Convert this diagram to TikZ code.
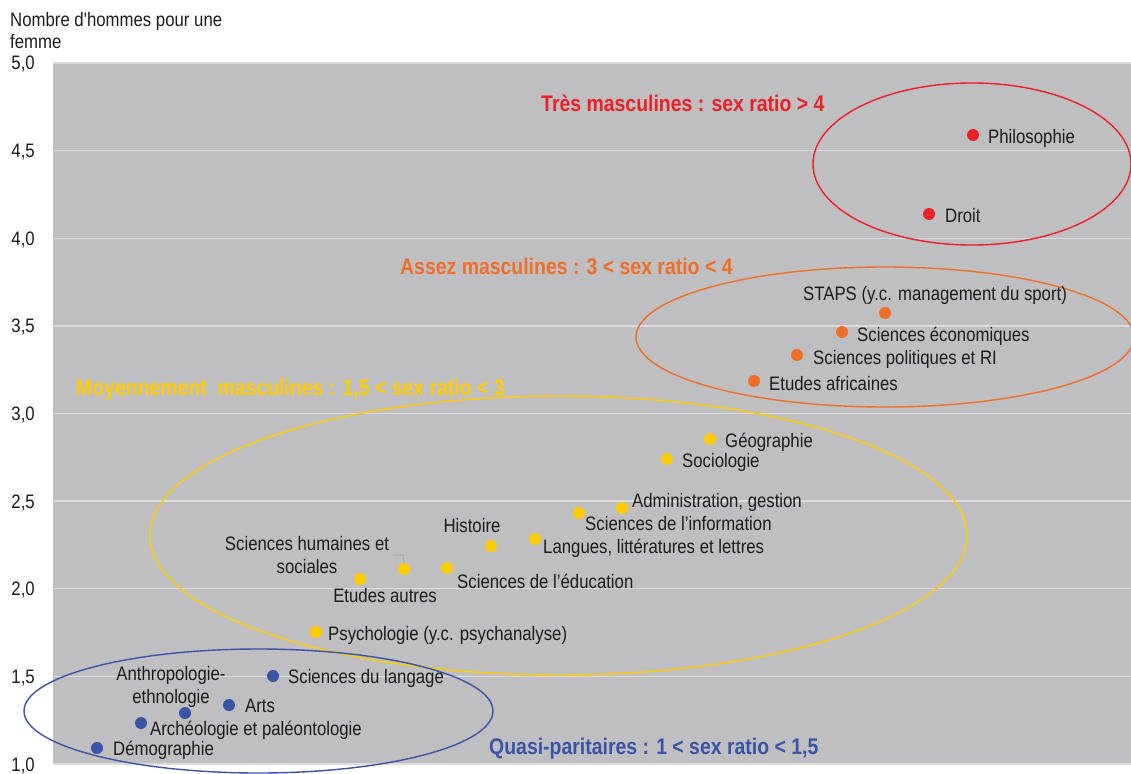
\documentclass[tikz,border=0pt]{standalone}
\usepackage{fontspec}
\setmainfont{Liberation Sans}[FakeStretch=0.86]
\newfontfamily\plainfont{Liberation Sans}[FakeStretch=0.86, Ligatures=TeXOff]
\definecolor{bgc}{RGB}{191,190,192}
\definecolor{gridc}{RGB}{220,220,220}
\definecolor{labc}{RGB}{28,28,28}
\definecolor{cR}{RGB}{233,33,40}
\definecolor{cO}{RGB}{238,110,42}
\definecolor{cY}{RGB}{255,204,0}
\definecolor{cB}{RGB}{58,84,166}
\begin{document}
\begin{tikzpicture}[x=1pt,y=-1pt,
  lab/.style={inner sep=0pt, font=\fontsize{19.5}{22.5}\selectfont, text=labc},
  ttl/.style={inner sep=0pt, font=\fontsize{22.6}{26}\selectfont\bfseries},
  dotbase/.style={circle, minimum size=12pt, inner sep=0pt},
  dotR/.style={dotbase, fill=cR},
  dotO/.style={dotbase, fill=cO},
  dotY/.style={dotbase, fill=cY},
  dotB/.style={dotbase, fill=cB},
  ring/.style={line width=1.4pt},
  leader/.style={draw=gray!70!white, line width=0.8pt}
]
\useasboundingbox (0,0) rectangle (1131,773);
\fill[bgc] (53,63) rectangle (1131,764);
% gridlines and y labels
\foreach \yy/\tx [count=\i] in {63/{5,0},150.6/{4,5},238.25/{4,0},325.9/{3,5},413.5/{3,0},501/{2,5},588.8/{2,0},676.4/{1,5},764/{1,0}}{
  \draw[gridc, line width=1.2pt] (53,\yy) -- (1131,\yy);
  \node[lab, anchor=base east] (yl\i) at (35,\yy+7) {\tx};
}
\node[lab, anchor=base west, align=left] (ytitle) at (10,49) {Nombre d{\plainfont '}hommes pour une\\femme};

% ellipses
\draw[cR, ring] (972,164) ellipse [x radius=159pt, y radius=81pt];
\draw[cO, ring] (885,337) ellipse [x radius=249pt, y radius=70pt];
\draw[cY, ring] (558.5,535.5) ellipse [x radius=408.5pt, y radius=139.5pt];
\draw[cB, ring] (258.5,711) ellipse [x radius=234.5pt, y radius=62pt];

% titles
\node[ttl, text=cR, anchor=base west] (tR) at (541,112) {Très masculines : sex ratio > 4};
\node[ttl, text=cO, anchor=base west] (tO) at (400,274) {Assez masculines : 3 < sex ratio < 4};
\node[ttl, text=cY, anchor=base west] (tY) at (76,395) {Moyennement\ \ masculines : 1,5 < sex ratio < 3};
\node[ttl, text=cB, anchor=base west] (tB) at (489,754) {Quasi-paritaires : 1 < sex ratio < 1,5};

% red
\node[dotR] (philo) at (973,135) {};
\node[lab, anchor=base west] (lphilo) at (988,143) {Philosophie};
\node[dotR] (droit) at (929,214) {};
\node[lab, anchor=base west] (ldroit) at (945,222) {Droit};

% orange
\node[dotO] (staps) at (885,313) {};
\node[lab, anchor=base] (lstaps) at (935,300) {STAPS (y.c. management du sport)};
\node[dotO] (eco) at (842,332) {};
\node[lab, anchor=base west] (leco) at (857,341) {Sciences économiques};
\node[dotO] (pol) at (797,355) {};
\node[lab, anchor=base west] (lpol) at (813,364) {Sciences politiques et RI};
\node[dotO] (afr) at (754,381) {};
\node[lab, anchor=base west] (lafr) at (769,390) {Etudes africaines};

% yellow
\node[dotY] (geo) at (710,439) {};
\node[lab, anchor=base west] (lgeo) at (725,447) {Géographie};
\node[dotY] (socio) at (667,459) {};
\node[lab, anchor=base west] (lsocio) at (682,467) {Sociologie};
\node[dotY] (admin) at (622,508) {};
\node[lab, anchor=base west] (ladmin) at (632,507) {Administration, gestion};
\node[dotY] (info) at (579,513) {};
\node[lab, anchor=base west] (linfo) at (585,530) {Sciences de l’information};
\node[dotY] (lang) at (535,539) {};
\node[lab, anchor=base west] (llang) at (543,553) {Langues, littératures et lettres};
\node[dotY] (hist) at (491,546) {};
\node[lab, anchor=base] (lhist) at (472,532) {Histoire};
\node[dotY] (educ) at (447,568) {};
\node[lab, anchor=base west] (leduc) at (457,588) {Sciences de l’éducation};
\node[dotY] (shs) at (404,569) {};
\node[lab, anchor=base, align=center] (lshs) at (307,573) {Sciences humaines et\\sociales};
\coordinate (shsA) at (393,555);
\coordinate (shsB) at (403,555);
\draw[leader] (shsA) -- (shsB) -- (shs.north);
\node[dotY] (autres) at (360,579) {};
\node[lab, anchor=base] (lautres) at (385,602) {Etudes autres};
\node[dotY] (psy) at (316,632) {};
\node[lab, anchor=base west] (lpsy) at (328,640) {Psychologie (y.c. psychanalyse)};

% blue
\node[dotB] (lgage) at (273,676) {};
\node[lab, anchor=base west] (llgage) at (288,683) {Sciences du langage};
\node[dotB] (arts) at (229,705) {};
\node[lab, anchor=base west] (larts) at (245,712) {Arts};
\node[dotB] (anthro) at (185,713) {};
\node[lab, anchor=base, align=center] (lanthro) at (171,703) {Anthropologie-\\ethnologie};
\node[dotB] (archeo) at (141,723) {};
\node[lab, anchor=base west] (larcheo) at (150,735) {Archéologie et paléontologie};
\node[dotB] (demo) at (97,748) {};
\node[lab, anchor=base west] (ldemo) at (113,755) {Démographie};
\end{tikzpicture}
\end{document}
